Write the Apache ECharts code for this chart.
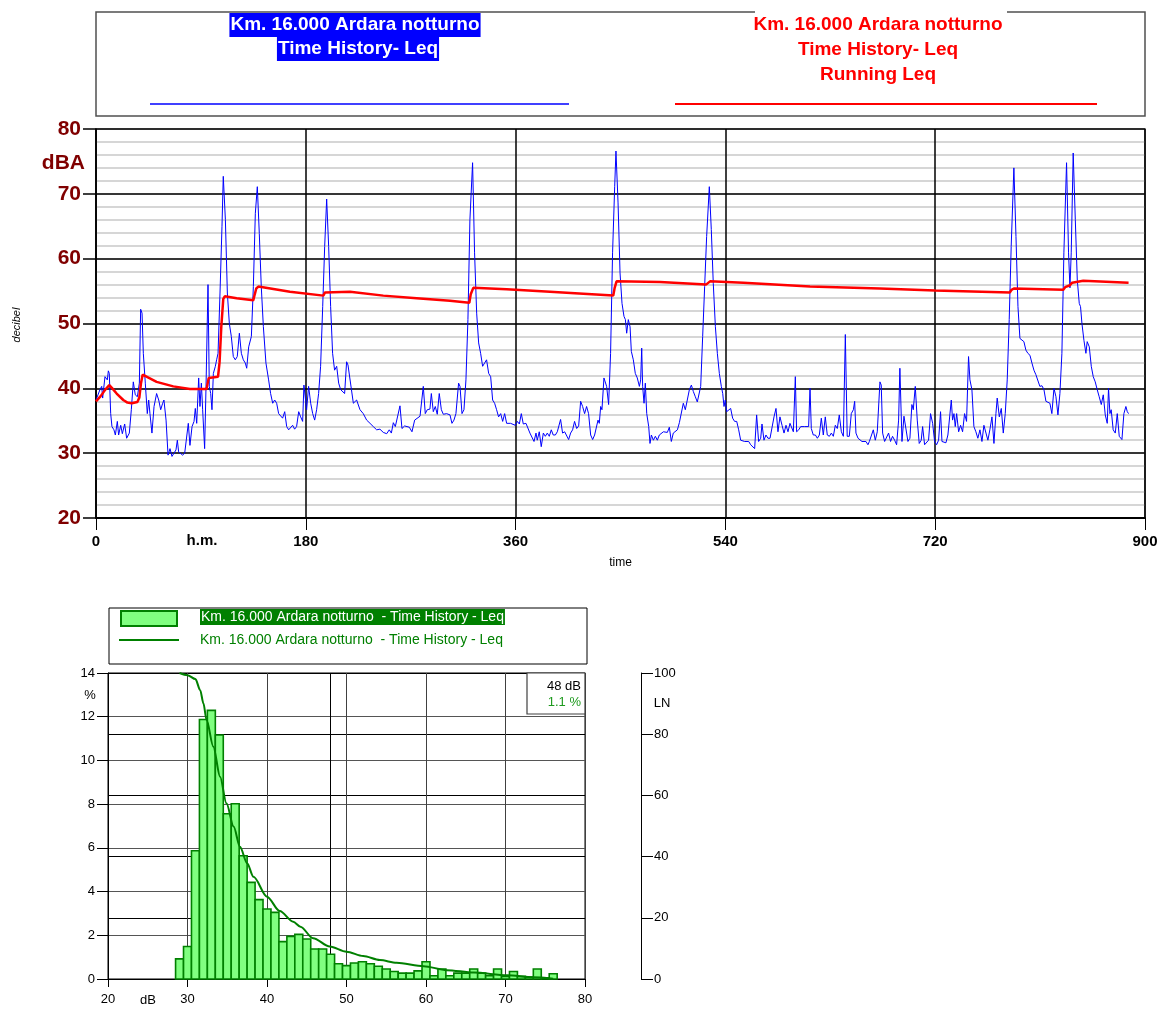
<!DOCTYPE html>
<html><head><meta charset="utf-8">
<script src="https://cdn.jsdelivr.net/npm/echarts@6/dist/echarts.min.js"></script>
<style>html,body{margin:0;padding:0;background:#fff}#c{width:1171px;height:1012px}</style>
</head><body><div id="c"></div>
<script>
const FONT = '"Liberation Sans", Arial, Helvetica, sans-serif';

// ---- Time history (minutes, dBA) ----
const blueTime = [
0,3.4,4.9,5.7,7.7,8.6,9.7,10.6,11.4,12.6,
13.7,15.4,16.6,18.3,19.4,21.2,22.6,24.6,26.3,28.6,
30.3,32.0,33.7,35.5,37.2,38.3,39.5,40.6,42.3,44.0,
45.2,46.3,48.0,49.8,52.0,53.8,55.5,57.2,58.3,60.1,
61.8,63.5,65.2,66.9,68.6,69.8,70.9,72.6,74.3,76.1,
77.8,79.2,80.6,82.4,84.1,85.2,86.4,88.1,89.2,90.4,
91.5,93.2,94.4,96.1,97.2,98.4,99.5,100.7,102.4,103.5,
104.7,106.4,108.1,109.2,111.0,112.7,114.4,116.1,117.8,119.5,
121.2,123.0,124.7,126.4,128.1,129.3,131.0,133.3,135.0,136.7,
138.4,140.1,141.8,143.6,145.8,148.1,149.8,151.6,153.3,155.0,
156.7,158.4,160.1,161.9,163.6,165.3,167.0,168.7,170.4,172.1,
173.9,175.6,177.3,178.4,179.6,180.7,182.4,184.2,185.9,187.6,
189.3,191.0,192.7,194.5,196.2,197.9,199.6,201.3,203.0,204.7,
206.5,208.2,209.9,211.6,213.3,215.0,216.2,
220.8,223.6,226.5,229.3,232.2,235.1,237.9,240.8,243.6,246.5,
249.4,251.6,253.4,255.1,256.8,258.5,260.8,262.5,264.8,266.5,
268.8,271.1,273.4,275.1,278.0,279.7,280.8,282.5,284.2,286.5,
287.7,289.4,291.1,292.8,294.5,296.3,298.0,300.8,303.7,305.4,
307.1,308.8,311.1,312.3,314.0,315.7,317.4,319.1,320.8,323.1,
324.8,326.6,328.3,330.0,331.7,333.4,335.1,336.9,338.6,340.3,
342.0,343.7,345.4,347.2,348.9,350.6,352.3,354.0,355.7,357.4,
359.7,361.5,363.2,364.9,366.6,368.9,370.6,372.3,374.0,375.8,
377.5,378.6,380.3,382.0,383.8,385.5,387.2,388.9,390.6,392.3,
394.1,395.8,398.6,400.3,402.1,403.8,405.5,407.2,408.9,410.6,
412.4,414.1,415.8,417.5,419.2,420.9,422.6,424.4,426.1,427.8,
429.5,430.7,431.8,433.0,434.1,435.8,438.1,439.8,441.5,443.2,
445.0,446.1,
447.9,449.6,451.3,453.0,454.2,455.3,456.7,458.2,459.3,461.0,
462.7,464.4,466.2,467.3,468.2,469.0,470.2,471.3,472.5,474.2,
475.3,476.5,478.2,479.9,481.6,483.3,485.0,486.8,488.5,490.2,
491.9,493.6,495.3,497.0,498.8,500.5,502.2,503.9,505.6,507.3,
509.1,510.8,512.5,514.2,515.9,517.1,518.8,520.5,522.2,523.9,
526.2,527.9,529.6,531.4,533.1,534.8,536.5,537.7,538.8,539.9,
541.1,542.8,544.5,546.2,547.9,549.7,551.4,553.1,554.8,556.5,
558.2,560.0,561.7,563.4,565.1,566.8,568.5,570.3,571.4,573.1,
574.8,576.5,578.3,580.0,581.7,583.4,585.1,586.8,588.6,590.3,
592.0,593.7,595.4,597.1,598.3,600.0,601.1,602.9,604.6,606.3,
608.0,609.7,611.4,612.6,613.7,615.4,617.2,618.9,620.6,622.3,
624.0,625.7,627.4,629.2,630.9,632.6,634.3,636.0,637.7,639.5,
641.2,642.9,644.5,646.3,648.0,649.8,650.9,652.0,653.8,655.5,
657.2,658.9,660.6,662.3,663.5,665.2,666.9,668.6,670.3,
672.6,673.7,674.9,676.6,678.3,680.0,681.7,683.4,685.2,686.9,
688.6,689.7,691.5,693.2,694.9,696.6,698.3,700.0,701.2,702.9,
704.6,706.3,708.0,709.2,710.9,712.6,714.3,716.0,717.8,719.5,
721.2,722.9,724.6,725.8,727.5,729.2,730.9,732.6,733.8,734.9,
736.1,737.2,738.4,740.1,741.8,743.5,745.2,746.9,748.6,749.8,
751.5,753.2,754.9,756.6,758.4,760.1,761.8,763.5,765.2,766.9,
768.7,770.4,772.1,773.2,775.0,776.7,778.4,780.1,781.8,783.5,
785.2,787.5,789.3,791.0,792.7,794.4,796.1,797.8,799.5,801.3,
803.0,804.7,806.4,808.1,809.8,811.6,813.3,815.0,816.7,818.4,
820.1,821.9,823.6,825.3,827.0,828.7,830.4,832.7,834.4,835.6,
836.7,838.4,840.2,841.9,843.6,844.7,845.9,847.6,849.3,850.4,
852.2,853.9,855.6,857.3,859.0,860.7,862.5,864.2,865.9,867.6,
868.7,869.9,871.0,872.7,874.5,876.2,877.9,880.2,881.9,883.6,
884.8,885.9
];
const blueLevel = [
38.2,39.8,40.3,38.5,41.8,41.8,41.3,42.7,42.3,36.1,
34.1,33.6,32.8,34.9,32.8,34.3,33.0,34.5,32.3,33.1,
36.7,41.0,39.0,38.7,40.8,52.2,51.6,45.4,40.8,36.1,
38.2,36.1,33.1,37.2,39.2,38.2,36.7,37.7,38.2,35.1,
29.7,30.7,29.5,29.2,30.5,32.0,30.2,30.5,29.7,30.0,
29.8,34.6,31.2,34.1,34.9,36.9,34.6,41.6,37.2,40.8,
36.7,30.7,40.3,56.0,40.3,39.2,36.7,42.3,43.4,44.4,
45.4,54.7,65.0,72.7,66.0,54.7,50.0,48.0,44.9,44.4,
44.9,48.5,45.4,44.4,43.9,43.1,46.4,48.0,55.7,67.0,
71.1,63.9,55.7,49.5,43.9,41.3,39.2,37.7,38.2,37.7,
36.1,35.9,35.4,36.4,34.1,33.6,33.8,34.3,33.7,34.1,
36.4,35.6,34.9,40.5,40.3,36.7,40.3,37.7,36.1,35.1,
36.7,39.2,43.4,52.6,61.9,69.2,61.9,52.6,45.4,42.8,
43.4,40.8,39.8,39.5,39.2,44.1,43.6,
37.7,38.2,36.7,36.1,35.1,34.6,34.1,33.6,33.7,33.2,
33.0,33.6,33.1,34.7,34.1,33.8,37.3,33.8,34.2,34.1,
34.0,33.3,35.1,35.4,35.7,35.7,40.3,36.1,36.7,36.8,
39.2,36.4,37.2,36.0,39.2,36.7,36.0,36.1,35.9,34.6,
35.1,36.1,40.8,40.3,36.1,36.7,41.3,50.6,66.0,74.8,
60.9,51.6,47.0,45.4,43.4,43.4,44.4,42.3,41.8,38.2,
37.7,36.7,35.6,36.1,34.9,36.1,34.6,34.9,34.6,34.9,
34.3,34.9,34.5,36.1,34.5,34.6,34.3,33.1,32.8,31.8,
33.1,32.0,33.3,31.0,33.1,32.6,33.1,32.6,33.6,32.8,
32.8,33.3,35.2,33.1,33.3,33.1,32.1,33.1,33.6,34.9,
33.8,34.2,38.0,37.2,36.1,37.2,36.1,32.8,32.1,32.8,
33.1,35.1,34.6,37.2,36.7,41.6,40.3,37.5,45.4,60.9,
71.1,76.6,
68.6,57.8,53.1,51.1,50.6,48.5,50.6,49.5,45.7,44.4,
42.3,41.6,40.3,41.3,46.2,40.3,37.7,40.8,36.1,34.1,
31.5,32.8,32.0,32.6,32.0,32.8,33.1,33.3,33.6,33.2,
34.0,31.8,33.1,33.3,33.6,34.7,34.5,37.7,36.7,38.2,
39.8,40.5,39.5,38.7,37.9,37.7,40.3,48.0,55.7,63.4,
71.1,64.5,56.2,49.5,45.4,42.3,40.3,39.2,37.2,38.2,
36.4,36.1,36.9,35.4,34.9,34.9,33.6,32.0,31.9,31.8,
31.5,31.8,31.3,31.5,30.7,35.9,31.8,32.3,34.5,32.0,
32.8,32.3,32.3,32.6,35.6,36.9,33.3,35.6,34.3,33.1,
34.3,33.3,34.6,34.3,33.3,41.8,33.3,33.6,34.1,33.8,
34.1,34.3,34.1,40.0,33.8,32.8,32.8,32.3,32.8,35.4,
32.8,35.6,32.8,32.6,33.1,32.6,34.3,33.8,35.9,33.3,
32.6,48.3,32.6,32.6,36.1,36.7,38.0,33.1,32.3,32.0,
31.8,31.5,31.8,31.3,31.8,32.0,33.6,32.0,33.3,
41.0,40.5,33.1,31.8,31.8,33.1,31.8,32.6,32.0,31.3,
35.1,43.1,31.8,35.7,35.6,31.8,32.3,37.5,36.7,40.3,
35.1,31.5,32.0,34.1,31.3,31.0,32.0,36.1,34.6,31.8,
31.3,32.0,36.4,31.8,32.0,31.6,32.8,33.1,38.2,35.1,
36.1,34.1,36.1,33.3,34.3,33.3,36.1,34.9,44.9,41.3,
39.8,34.1,33.3,32.3,33.6,31.8,34.3,34.3,32.0,33.6,
35.6,31.5,36.1,38.5,35.6,36.9,33.1,36.1,41.3,50.6,
61.9,74.0,63.4,52.6,47.7,47.4,47.2,45.9,45.4,45.1,
43.9,42.8,42.1,41.8,40.3,40.4,39.8,38.0,38.2,37.7,
36.1,40.0,38.7,35.9,39.2,45.4,60.9,74.8,60.9,55.5,
60.9,76.3,66.0,56.7,53.1,52.6,50.0,47.4,45.4,47.2,
46.4,43.4,41.8,41.0,39.8,38.7,37.5,39.0,35.9,34.6,
40.0,36.1,36.7,33.6,33.1,36.1,32.6,32.1,36.1,37.2,
36.4,36.1
];

// ---- Running Leq ----
const redTime = [0,4,8,11.4,14,17.7,23.4,27,30.6,35.5,37.2,38.6,40.0,52.0,66.3,80.6,94.9,95.8,96.7,104.7,
106.0,107.5,109.2,110.5,120.7,135.0,136.2,137.5,139.3,166.4,195.0,196.5,198.0,217.9,246.5,275.1,303.7,320.3,321.5,323.7,
352.3,389.5,418.1,443.8,445.0,446.6,448.0,483.9,523.4,524.5,526.8,555.4,612.6,672.6,719.8,784.1,785.5,787.5,829.9,831.5,
832.7,835.6,837.5,839.0,847.0,885.9];
const redLevel = [38.0,38.8,39.8,40.5,40.0,39.2,38.2,37.8,37.7,37.9,38.6,40.8,42.1,41.0,40.3,39.9,39.9,40.8,41.6,41.8,
44.0,49.5,53.8,54.2,53.9,53.6,54.5,55.4,55.7,54.9,54.3,54.8,55.1,54.9,54.3,53.9,53.5,53.2,54.5,55.5,
55.3,54.9,54.6,54.3,55.5,56.5,56.7,56.4,56.0,56.3,56.5,56.3,55.7,55.4,55.1,54.8,55.2,55.4,55.2,55.6,
55.9,55.9,56.3,56.5,56.6,56.3];

// ---- Distribution (1 dB classes) ----
const histDb = [29,30,31,32,33,34,35,36,37,38,39,40,41,42,43,44,45,46,47,48,
49,50,51,52,53,54,55,56,57,58,59,60,61,62,63,64,65,66,67,68,69,70,71,72,73,74,75,76];
const histPct = [0.92,1.49,5.87,11.87,12.29,11.16,7.56,8.02,5.64,4.42,3.63,3.20,3.05,1.71,1.95,2.04,1.83,1.37,1.37,1.13,
0.70,0.61,0.73,0.79,0.70,0.58,0.46,0.34,0.27,0.27,0.37,0.79,0.15,0.46,0.15,0.27,0.27,0.46,0.27,0.15,
0.46,0.12,0.34,0.12,0.09,0.46,0.05,0.24];

// ---- Cumulative LN curve ----
const lnDb  = [29,30,31,31.6,32,32.4,33.25,34.1,34.9,35.8,36.6,37.5,38.3,40,41.6,43.3,44.2,45.8,47.9,50,52.1,54.2,56.3,59.7,62.6,66,70.2,73.5,76];
const lnPct = [100,99.3,98,94.4,90.1,84.6,75.9,66.1,57.4,49.8,43.2,37.8,33.4,26.9,22.2,18.7,17.1,13.3,10.6,8.9,7.5,6.2,5.3,4.2,2.9,2.1,1.2,0.55,0.1];

const cursorDb = 48;
const cursorPct = 1.1;

// ---- texts ----
const titleLine1 = 'Km. 16.000 Ardara notturno';
const titleLine2 = 'Time History- Leq';
const titleLine3 = 'Running Leq';
const histName = 'Km. 16.000 Ardara notturno  - Time History - Leq';

const chart = echarts.init(document.getElementById('c'), null, {renderer: 'canvas'});

function txt(x, y, text, font, fill, align, extra) {
  return Object.assign({type: 'text', x: x, y: y, z: 100,
    style: Object.assign({text: text, font: font, fill: fill, align: align || 'center', verticalAlign: 'middle'}, extra || {})});
}

const graphic = [
  {type: 'rect', z: 90, shape: {x: 96, y: 12, width: 1049, height: 104}, style: {fill: '#fff', stroke: '#505050', lineWidth: 1.5}},
  {type: 'rect', z: 91, shape: {x: 755, y: 9, width: 252, height: 7}, style: {fill: '#fff'}},
  txt(355, 25, titleLine1, 'bold 19px ' + FONT, '#fff', 'center', {backgroundColor: '#0000ff', padding: [3, 1, 2, 1]}),
  txt(358, 49, titleLine2, 'bold 19px ' + FONT, '#fff', 'center', {backgroundColor: '#0000ff', padding: [3, 1, 2, 1]}),
  {type: 'line', z: 100, shape: {x1: 150, y1: 104, x2: 569, y2: 104}, style: {stroke: '#0000ff', lineWidth: 1.5}},
  txt(878, 25, titleLine1, 'bold 19px ' + FONT, '#ff0000'),
  txt(878, 50, titleLine2, 'bold 19px ' + FONT, '#ff0000'),
  txt(878, 75, titleLine3, 'bold 19px ' + FONT, '#ff0000'),
  {type: 'line', z: 100, shape: {x1: 675, y1: 104, x2: 1097, y2: 104}, style: {stroke: '#ff0000', lineWidth: 2}},
  txt(85, 163, 'dBA', 'bold 21px ' + FONT, '#800000', 'right'),
  Object.assign(txt(17, 325, 'decibel', 'italic 11px ' + FONT, '#000'), {rotation: Math.PI / 2}),
  txt(202, 541, 'h.m.', 'bold 15px ' + FONT, '#000'),
  // bottom legend
  {type: 'rect', z: 90, shape: {x: 109, y: 608, width: 478, height: 56}, style: {fill: '#fff', stroke: '#000', lineWidth: 1}},
  {type: 'rect', z: 100, shape: {x: 121, y: 611, width: 56, height: 15}, style: {fill: '#80ff80', stroke: '#008000', lineWidth: 2}},
  txt(200, 617, histName, '14px ' + FONT, '#fff', 'left', {backgroundColor: '#008000', padding: [1, 1, 1, 1]}),
  {type: 'line', z: 100, shape: {x1: 119, y1: 640, x2: 179, y2: 640}, style: {stroke: '#008000', lineWidth: 2}},
  txt(200, 640, histName, '14px ' + FONT, '#008000', 'left'),
  txt(90, 695, '%', '13px ' + FONT, '#000'),
  txt(148, 1000, 'dB', '13px ' + FONT, '#000'),
  txt(662, 703, 'LN', '13px ' + FONT, '#000'),
  // cursor box
  {type: 'rect', z: 95, shape: {x: 527, y: 673, width: 58, height: 41}, style: {fill: '#fff', stroke: '#404040', lineWidth: 1.2}},
  txt(581, 686, cursorDb + ' dB', '13px ' + FONT, '#000', 'right'),
  txt(581, 702, cursorPct.toFixed(1) + ' %', '13px ' + FONT, '#1f9a1f', 'right')
];

const option = {
  animation: false,
  backgroundColor: '#fff',
  textStyle: {fontFamily: FONT},
  grid: [
    {left: 96, top: 129, width: 1049, height: 389, show: true, borderColor: '#404040', borderWidth: 1.5, backgroundColor: 'transparent', outerBoundsMode: 'none', containLabel: false},
    {left: 108, top: 673, width: 477, height: 306, show: true, borderColor: '#000', borderWidth: 1, backgroundColor: 'transparent', outerBoundsMode: 'none', containLabel: false}
  ],
  xAxis: [
    {gridIndex: 0, type: 'value', min: 0, max: 900, interval: 180,
      axisLine: {show: true, onZero: false, lineStyle: {color: '#000', width: 2}},
      axisTick: {show: true, length: 12, lineStyle: {color: '#000', width: 1}},
      axisLabel: {color: '#000', fontFamily: FONT, fontWeight: 'bold', fontSize: 15, margin: 16},
      splitLine: {show: true, lineStyle: {color: '#000', width: 1.5}},
      name: 'time', nameLocation: 'middle', nameGap: 39,
      nameTextStyle: {color: '#000', fontFamily: FONT, fontSize: 12}},
    {gridIndex: 1, type: 'value', min: 20, max: 80, interval: 10,
      axisLine: {show: true, onZero: false, lineStyle: {color: '#000', width: 1}},
      axisTick: {show: true, length: 8, lineStyle: {color: '#000'}},
      axisLabel: {color: '#000', fontFamily: FONT, fontSize: 13, margin: 14},
      splitLine: {show: true, lineStyle: {color: '#404040', width: 1}}}
  ],
  yAxis: [
    {gridIndex: 0, type: 'value', min: 20, max: 80, interval: 2, position: 'left',
      axisLine: {show: false}, axisTick: {show: false}, axisLabel: {show: false},
      splitLine: {show: true, lineStyle: {color: '#c8c8c8', width: 1.5}}},
    {gridIndex: 0, type: 'value', min: 20, max: 80, interval: 10, position: 'left',
      axisLine: {show: true, onZero: false, lineStyle: {color: '#000', width: 1.5}},
      axisTick: {show: true, length: 13, lineStyle: {color: '#000', width: 1.5}},
      axisLabel: {color: '#800000', fontFamily: FONT, fontWeight: 'bold', fontSize: 21, margin: 15},
      splitLine: {show: true, lineStyle: {color: '#000', width: 1.5}}},
    {gridIndex: 1, type: 'value', min: 0, max: 14, interval: 2, position: 'left',
      axisLine: {show: true, onZero: false, lineStyle: {color: '#000', width: 1}},
      axisTick: {show: true, length: 11, lineStyle: {color: '#000'}},
      axisLabel: {color: '#000', fontFamily: FONT, fontSize: 13, margin: 13},
      splitLine: {show: true, lineStyle: {color: '#555', width: 1}}},
    {gridIndex: 1, type: 'value', min: 0, max: 100, interval: 20, position: 'right', offset: 56,
      axisLine: {show: true, onZero: false, lineStyle: {color: '#000', width: 1}},
      axisTick: {show: true, length: 12, lineStyle: {color: '#000'}},
      axisLabel: {color: '#000', fontFamily: FONT, fontSize: 13, margin: 13},
      splitLine: {show: true, lineStyle: {color: '#000', width: 1}}}
  ],
  series: [
    {type: 'line', name: titleLine2, xAxisIndex: 0, yAxisIndex: 1, z: 3,
      data: blueTime.map((t, i) => [t, blueLevel[i]]),
      symbol: 'none', showSymbol: false, lineStyle: {color: '#0000ff', width: 1}, itemStyle: {color: '#0000ff'}},
    {type: 'line', name: titleLine3, xAxisIndex: 0, yAxisIndex: 1, z: 4,
      data: redTime.map((t, i) => [t, redLevel[i]]),
      symbol: 'none', showSymbol: false, lineStyle: {color: '#ff0000', width: 2.5}, itemStyle: {color: '#ff0000'}},
    {type: 'custom', name: histName, xAxisIndex: 1, yAxisIndex: 2, z: 3,
      data: histDb.map((d, i) => [d, histPct[i]]),
      encode: {x: 0, y: 1},
      renderItem: function (params, api) {
        const c = api.value(0), v = api.value(1);
        const p1 = api.coord([c - 0.5, v]);
        const p2 = api.coord([c + 0.5, 0]);
        return {type: 'rect', shape: {x: p1[0], y: p1[1], width: p2[0] - p1[0], height: p2[1] - p1[1]},
          style: {fill: '#80ff80', stroke: '#008000', lineWidth: 1.6}};
      }},
    {type: 'line', name: histName + ' LN', xAxisIndex: 1, yAxisIndex: 3, z: 4,
      data: lnDb.map((d, i) => [d, lnPct[i]]),
      smooth: 0.3, smoothMonotone: 'x', symbol: 'none', showSymbol: false,
      lineStyle: {color: '#008000', width: 2}, itemStyle: {color: '#008000'},
      markLine: {silent: true, symbol: 'none', label: {show: false}, z: 2,
        lineStyle: {color: '#000', width: 1, type: 'solid'}, data: [{xAxis: cursorDb}]}}
  ],
  graphic: graphic
};
chart.setOption(option);
</script></body></html>
